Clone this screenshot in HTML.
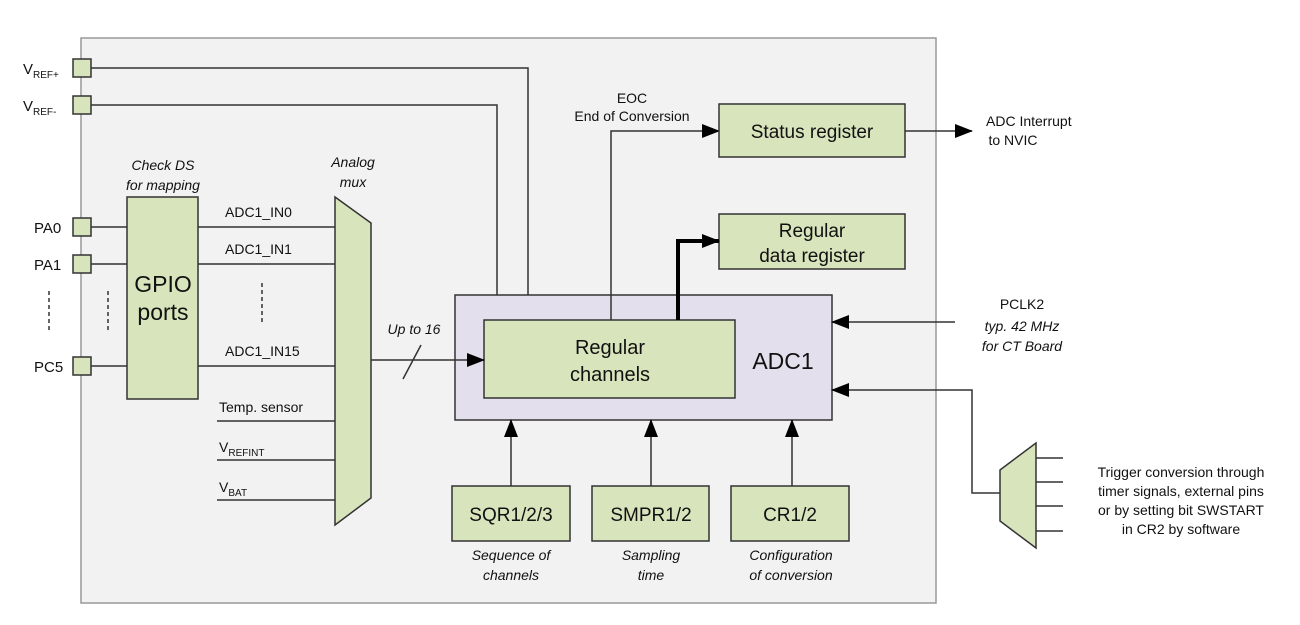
<!DOCTYPE html>
<html><head><meta charset="utf-8"><style>
body{margin:0;background:#fff;}
svg{display:block;font-family:"Liberation Sans",Arial,sans-serif;}
</style></head><body>
<svg width="1300" height="625" viewBox="0 0 1300 625">
<defs>
<marker id="b" markerWidth="18" markerHeight="14" refX="17" refY="7" orient="auto" markerUnits="userSpaceOnUse"><path d="M0,0 L18,7 L0,14 z" fill="#000"/></marker>
</defs>
<rect x="81" y="38" width="855" height="565" fill="#f2f2f2" stroke="#999" stroke-width="1.5"/>
<g fill="#d8e4bc" stroke="#333" stroke-width="1.5">
<rect x="455" y="295" width="377" height="125" fill="#e4dfec"/>
<rect x="484" y="320" width="251" height="78"/>
</g>
<g stroke="#333" stroke-width="1.5" fill="none">
<polyline points="91,68 528,68 528,295"/>
<polyline points="91,105 497,105 497,295"/>
<line x1="91" y1="227" x2="127" y2="227"/>
<line x1="91" y1="264" x2="127" y2="264"/>
<line x1="91" y1="366" x2="127" y2="366"/>
<line x1="198" y1="227" x2="335" y2="227"/>
<line x1="198" y1="264" x2="335" y2="264"/>
<line x1="198" y1="366" x2="335" y2="366"/>
<line x1="217" y1="421" x2="335" y2="421"/>
<line x1="217" y1="460" x2="335" y2="460"/>
<line x1="217" y1="500" x2="335" y2="500"/>
<line x1="49" y1="291" x2="49" y2="333" stroke-dasharray="4,3"/>
<line x1="108" y1="291" x2="108" y2="333" stroke-dasharray="4,3"/>
<line x1="262" y1="283" x2="262" y2="325" stroke-dasharray="4,3"/>
<line x1="371" y1="360" x2="484" y2="360" marker-end="url(#b)"/>
<line x1="403" y1="379" x2="421" y2="345"/>
<polyline points="611,320 611,131 719,131" marker-end="url(#b)"/>
<line x1="905" y1="131" x2="972" y2="131" marker-end="url(#b)"/>
<line x1="955" y1="322" x2="832" y2="322" marker-end="url(#b)"/>
<polyline points="1000,493 972,493 972,390 832,390" marker-end="url(#b)"/>
<line x1="511" y1="486" x2="511" y2="420" marker-end="url(#b)"/>
<line x1="651" y1="486" x2="651" y2="420" marker-end="url(#b)"/>
<line x1="792" y1="486" x2="792" y2="420" marker-end="url(#b)"/>
<line x1="1036" y1="458" x2="1063" y2="458"/>
<line x1="1036" y1="482" x2="1063" y2="482"/>
<line x1="1036" y1="506" x2="1063" y2="506"/>
<line x1="1036" y1="531" x2="1063" y2="531"/>
</g>
<g fill="#d8e4bc" stroke="#333" stroke-width="1.5">
<rect x="73" y="59" width="18" height="18"/>
<rect x="73" y="96" width="18" height="18"/>
<rect x="73" y="218" width="18" height="18"/>
<rect x="73" y="255" width="18" height="18"/>
<rect x="73" y="357" width="18" height="18"/>
<rect x="127" y="197" width="71" height="202"/>
<polygon points="335,197 371,223 371,498 335,525"/>
<rect x="719" y="104" width="186" height="53"/>
<rect x="719" y="214" width="186" height="55"/>
<rect x="452" y="486" width="118" height="55"/>
<rect x="592" y="486" width="117" height="55"/>
<rect x="731" y="486" width="118" height="55"/>
<polygon points="1000,470 1036,443 1036,548 1000,521"/>
</g>
<polyline points="678,320 678,241 719,241" stroke="#000" stroke-width="4" fill="none" marker-end="url(#b)"/>
<g font-size="15" fill="#111">
<text x="23" y="74">V<tspan font-size="10" dy="4">REF+</tspan></text>
<text x="23" y="111">V<tspan font-size="10" dy="4">REF-</tspan></text>
<text x="34" y="233">PA0</text>
<text x="34" y="270">PA1</text>
<text x="34" y="372">PC5</text>
<text x="225" y="217" font-size="14">ADC1_IN0</text>
<text x="225" y="254" font-size="14">ADC1_IN1</text>
<text x="225" y="356" font-size="14">ADC1_IN15</text>
<text x="219" y="412" font-size="14">Temp. sensor</text>
<text x="219" y="452" font-size="14">V<tspan font-size="10" dy="4">REFINT</tspan></text>
<text x="219" y="492" font-size="14">V<tspan font-size="10" dy="4">BAT</tspan></text>
<g font-style="italic" font-size="14" text-anchor="middle">
<text x="163" y="170">Check DS</text><text x="163" y="190">for mapping</text>
<text x="353" y="167">Analog</text><text x="353" y="187">mux</text>
<text x="414" y="334">Up to 16</text>
<text x="511" y="560">Sequence of</text><text x="511" y="580">channels</text>
<text x="651" y="560">Sampling</text><text x="651" y="580">time</text>
<text x="791" y="560">Configuration</text><text x="791" y="580">of conversion</text>
<text x="1022" y="331">typ. 42 MHz</text><text x="1022" y="351">for CT Board</text>
</g>
<g text-anchor="middle">
<text x="632" y="103" font-size="14">EOC</text>
<text x="632" y="121" font-size="14">End of Conversion</text>
<text x="1022" y="309" font-size="14">PCLK2</text>
<text x="986" y="126" font-size="14" text-anchor="start">ADC Interrupt</text>
<text x="1013" y="145" font-size="14">to NVIC</text>
<text x="1181" y="477" font-size="14">Trigger conversion through</text>
<text x="1181" y="496" font-size="14">timer signals, external pins</text>
<text x="1181" y="515" font-size="14">or by setting bit SWSTART</text>
<text x="1181" y="534" font-size="14">in CR2 by software</text>
<text x="163" y="292" font-size="23">GPIO</text>
<text x="163" y="320" font-size="23">ports</text>
<text x="610" y="354" font-size="20">Regular</text>
<text x="610" y="381" font-size="20">channels</text>
<text x="783" y="369" font-size="23">ADC1</text>
<text x="812" y="138" font-size="19">Status register</text>
<text x="812" y="237" font-size="19">Regular</text>
<text x="812" y="262" font-size="19">data register</text>
<text x="511" y="521" font-size="19">SQR1/2/3</text>
<text x="651" y="521" font-size="19">SMPR1/2</text>
<text x="790" y="521" font-size="19">CR1/2</text>
</g>
</g>
</svg>
</body></html>
